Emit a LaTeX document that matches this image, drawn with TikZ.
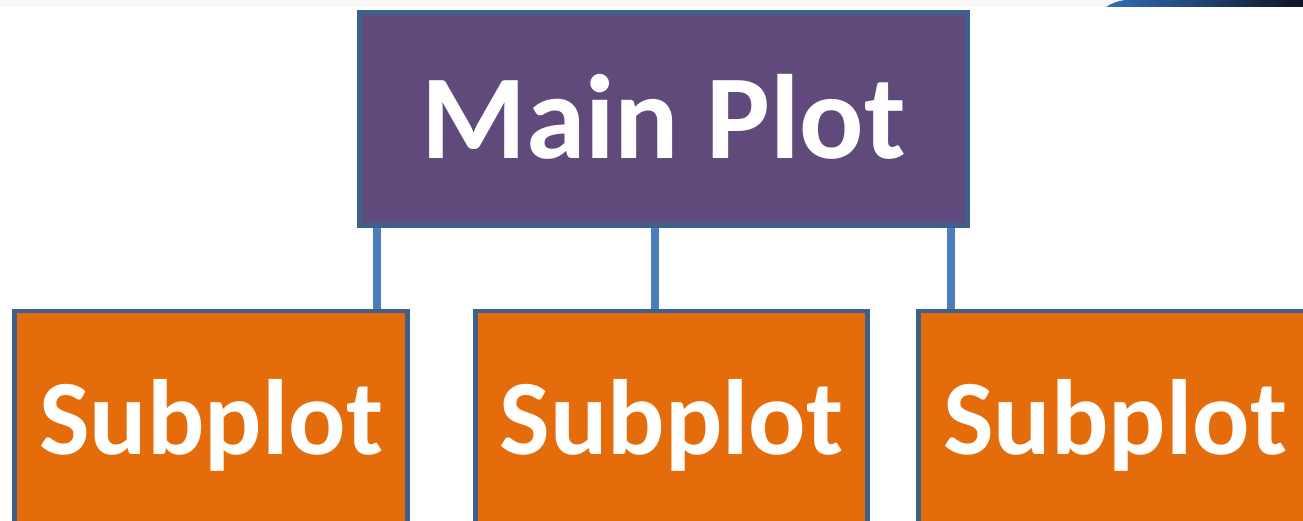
\documentclass[tikz,border=0pt]{standalone}
\usepackage{fontspec}
\setmainfont{Carlito}
\usetikzlibrary{backgrounds}
\definecolor{mainfill}{RGB}{96,74,123}
\definecolor{subfill}{RGB}{228,108,10}
\definecolor{boxline}{RGB}{64,96,140}
\definecolor{connline}{RGB}{74,126,187}
\definecolor{stripgray}{RGB}{248,248,248}
\definecolor{capblue}{RGB}{50,110,185}
\definecolor{capdark}{RGB}{15,20,35}
\tikzset{
  mainbox/.style={draw=boxline, line width=4.5pt, fill=mainfill, text=white,
    font=\fontsize{120}{120}\selectfont\bfseries,
    minimum width=608pt, minimum height=213pt, inner sep=0pt,
    text height=100pt, text depth=20pt},
  subbox/.style={draw=boxline, line width=4.5pt, fill=subfill, text=white,
    font=\fontsize{107}{107}\selectfont\bfseries,
    minimum height=300pt, inner sep=0pt,
    text height=40pt, text depth=54pt, anchor=north},
  conn/.style={draw=connline, line width=8pt}
}
\begin{document}
\begin{tikzpicture}[x=1pt,y=1pt]
\useasboundingbox (0,0) rectangle (1303,521);
\clip (0,0) rectangle (1303,521);

\node[mainbox] (main) at (663.5,402) {Main Plot};
\node[subbox, minimum width=393pt] (sub1) at (211,212) {Subplot};
\node[subbox, minimum width=392pt] (sub2) at (671.5,212) {Subplot};
\node[subbox, minimum width=393pt] (sub3) at (1115,212) {Subplot};

\begin{pgfonlayer}{background}
\fill[white] (0,0) rectangle (1303,521);
% top strip with slide decoration
\fill[stripgray] (0,514) rectangle (1303,521);
\shade[left color=capblue, right color=capdark] (1106,514) .. controls (1112,518) and (1118,520) .. (1125,521) -- (1303,521) -- (1303,514) -- cycle;
\draw[conn] ([xshift=20pt]main.south west) -- ([xshift=20pt]main.south west |- sub1.north);
\draw[conn] ([xshift=-8.5pt]main.south) -- ([xshift=-8.5pt]main.south |- sub2.north);
\draw[conn] ([xshift=-19pt]main.south east) -- ([xshift=-19pt]main.south east |- sub3.north);
\end{pgfonlayer}
\end{tikzpicture}
\end{document}
